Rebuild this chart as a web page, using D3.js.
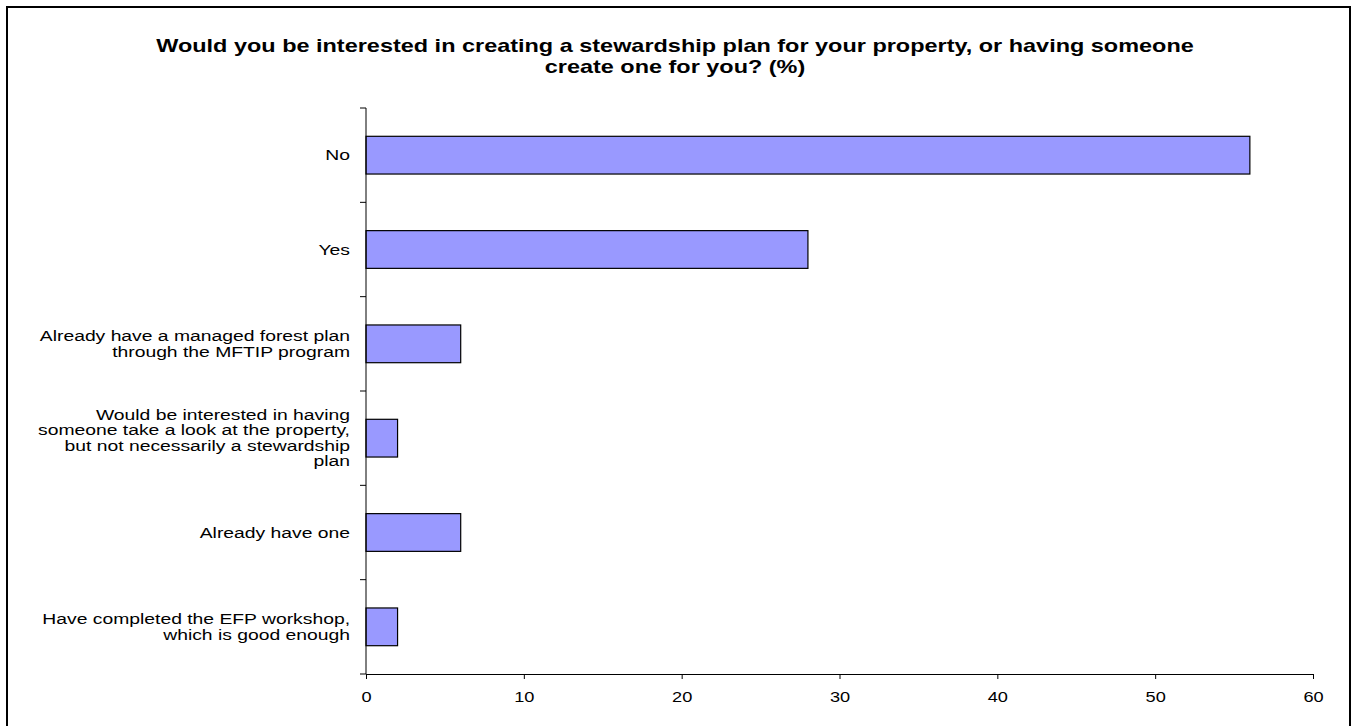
<!DOCTYPE html>
<html><head><meta charset="utf-8">
<script src="https://cdn.jsdelivr.net/npm/d3@7"></script>
<style>body{margin:0;background:#fff}svg{display:block}</style>
</head><body>
<script>
const categories = [
  ["No"],
  ["Yes"],
  ["Already have a managed forest plan", "through the MFTIP program"],
  ["Would be interested in having", "someone take a look at the property,", "but not necessarily a stewardship", "plan"],
  ["Already have one"],
  ["Have completed the EFP workshop,", "which is good enough"]
];
const values = [56, 28, 6, 2, 6, 2];
const xTicks = [0, 10, 20, 30, 40, 50, 60];
const titleLines = ["Would you be interested in creating a stewardship plan for your property, or having someone", "create one for you? (%)"];

(function () {
const W = 1352, H = 726;
const svg = d3.select("body").append("svg").attr("width", W).attr("height", H);
svg.append("rect").attr("x", 7).attr("y", 7).attr("width", W - 9).attr("height", H + 10)
  .attr("fill", "#fff").attr("stroke", "#000").attr("stroke-width", 2);

const pL = 366, pR = 1313, pT = 108, pB = 674;
const x = d3.scaleLinear().domain([0, 60]).range([pL, pR]);
const y = d3.scaleBand().domain(d3.range(categories.length)).range([pT, pB]).paddingInner(0.6).paddingOuter(0.3);
const font = "Liberation Sans, Arial, sans-serif";

svg.append("g").selectAll("text").data(titleLines).join("text")
  .attr("transform", (d, i) => `translate(675,${51.5 + i * 21.5}) scale(1.34,1)`)
  .attr("text-anchor", "middle").attr("font-family", font).attr("font-weight", "bold")
  .attr("font-size", 17.5).text(d => d);

// bars
svg.append("g").selectAll("rect").data(values).join("rect")
  .attr("x", x(0)).attr("y", (d, i) => y(i))
  .attr("width", d => x(d) - x(0)).attr("height", y.bandwidth())
  .attr("fill", "#9999FF").attr("stroke", "#000").attr("stroke-width", 1.2);

// x axis
const xa = svg.append("g").attr("transform", `translate(0,${pB})`)
  .call(d3.axisBottom(x).tickValues(xTicks).tickSize(5).tickPadding(12).tickFormat(d3.format("d")));
xa.select(".domain").attr("stroke", "#000");
xa.selectAll(".tick text").attr("font-family", font).attr("font-size", 14).attr("fill", "#000")
  .attr("dy", null).attr("y", 0)
  .attr("transform", "translate(0,28) scale(1.3,1)");

// y axis line and ticks at category boundaries
const step = (pB - pT) / categories.length;
const bounds = d3.range(categories.length + 1).map(i => pT + i * step);
svg.append("line").attr("x1", pL).attr("x2", pL).attr("y1", pT).attr("y2", pB).attr("stroke", "#000");
svg.append("g").selectAll("line").data(bounds).join("line")
  .attr("x1", pL - 6).attr("x2", pL).attr("y1", d => d).attr("y2", d => d).attr("stroke", "#000");

// category labels
const lab = svg.append("g").selectAll("text").data(categories).join("text")
  .attr("text-anchor", "end").attr("font-family", font).attr("font-size", 14).attr("fill", "#000")
  .attr("transform", (d, i) => `translate(350,${y(i) + y.bandwidth() / 2}) scale(1.38,1)`);
lab.each(function (d) {
  const n = d.length, lh = 15.4;
  d3.select(this).selectAll("tspan").data(d).join("tspan")
    .attr("x", 0).attr("y", (t, j) => (j - (n - 1) / 2) * lh + 5).text(t => t);
});
})();
</script>
</body></html>
